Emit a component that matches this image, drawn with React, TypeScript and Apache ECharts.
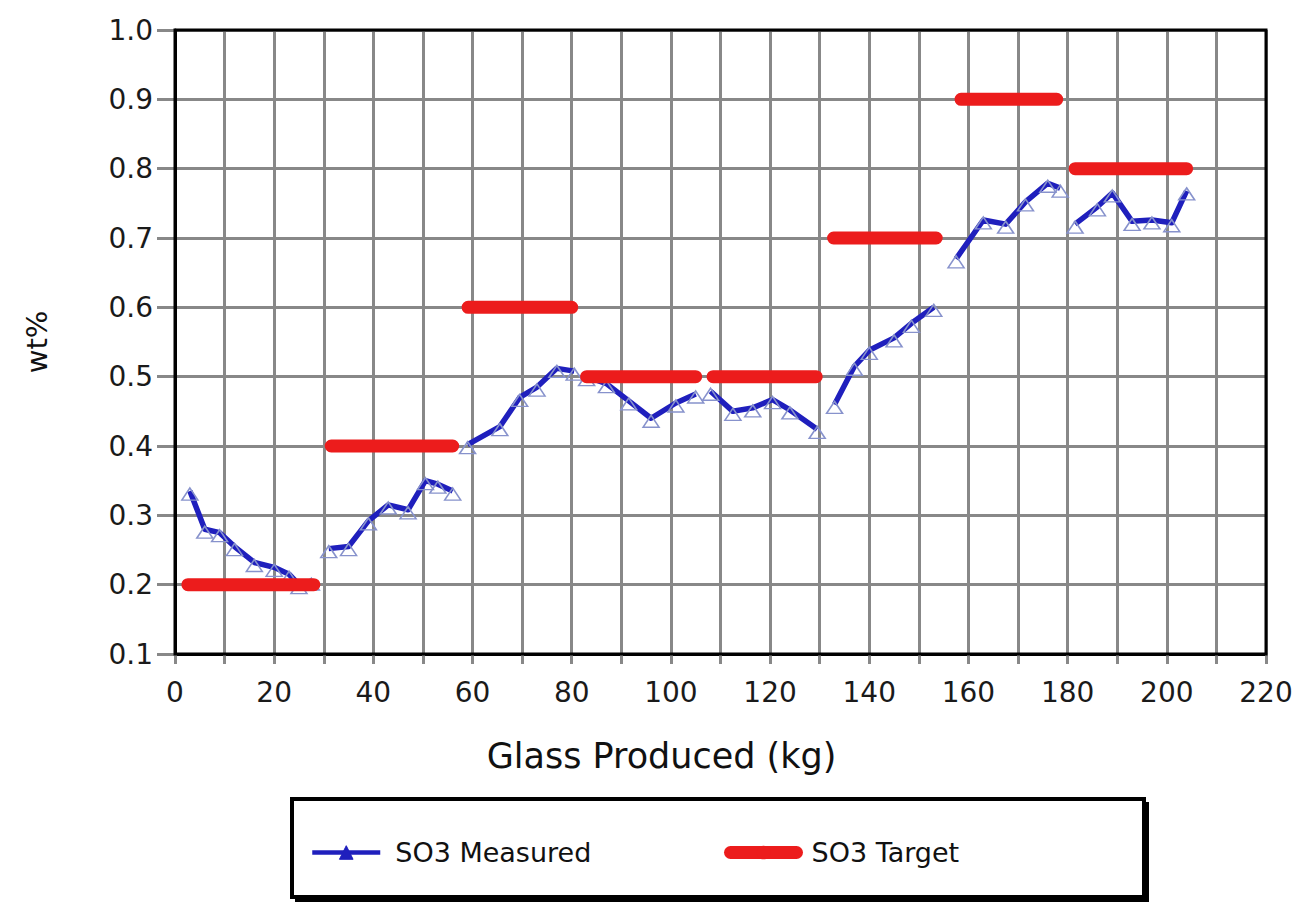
import { useEffect, useRef } from "react";
import * as echarts from "echarts";

// Measured SO3 (wt%) against glass produced (kg), one run per target level
const measuredRun1: [number, number][] = [[3, 0.335], [6, 0.28], [9, 0.275], [12, 0.255], [16, 0.232], [20, 0.225], [23, 0.215], [25, 0.2], [27.5, 0.205]];
const measuredRun2: [number, number][] = [[31, 0.252], [35, 0.255], [39, 0.292], [43, 0.315], [47, 0.308], [50.5, 0.35], [53, 0.345], [56, 0.335]];
const measuredRun3: [number, number][] = [[59, 0.402], [65.5, 0.428], [69.5, 0.47], [73, 0.485], [77, 0.512], [80.5, 0.508]];
const measuredRun4: [number, number][] = [[83, 0.5], [87, 0.49], [91.5, 0.465], [96, 0.44], [101, 0.462], [105, 0.475]];
const measuredRun5: [number, number][] = [[108, 0.479], [112.5, 0.45], [116.5, 0.455], [120.5, 0.467], [124, 0.452], [129.5, 0.424]];
const measuredRun6: [number, number][] = [[133, 0.46], [137, 0.515], [140, 0.538], [145, 0.556], [148.5, 0.577], [153, 0.6]];
const measuredRun7: [number, number][] = [[157.5, 0.67], [163, 0.726], [167.5, 0.72], [171.5, 0.752], [176, 0.779], [178.5, 0.772]];
const measuredRun8: [number, number][] = [[181.5, 0.72], [186, 0.745], [189, 0.765], [193, 0.724], [197, 0.726], [201, 0.722], [204, 0.768]];
const measuredRuns = [measuredRun1, measuredRun2, measuredRun3, measuredRun4, measuredRun5, measuredRun6, measuredRun7, measuredRun8];

// SO3 target levels and the glass-produced span each one covers
const targetLevel = [0.2, 0.4, 0.6, 0.5, 0.5, 0.7, 0.9, 0.8];
const targetStart = [2.6, 31.5, 59.1, 83, 108.5, 132.8, 158.5, 181.5];
const targetEnd = [28, 56, 80, 105, 129.3, 153.5, 177.8, 204];

// Axis ranges
const xMin = 0;
const xMax = 220;
const xStep = 10;
const xLabelStep = 20;
const yMin = 0.1;
const yMax = 1.0;
const yStep = 0.1;

const FONT = "DejaVu Sans";
const BLUE = "#1f1fbd";
const RED = "#ec1c1c";

// Plot box
const GRID = { left: 175, top: 30, right: 32, bottom: 249 };
const W = 1298;
const H = 903;

export default function App() {
  const ref = useRef<HTMLDivElement>(null);

  useEffect(() => {
    if (!ref.current) return;
    const chart = echarts.init(ref.current, undefined, { renderer: "svg" });

    // Runs separated by empty points so the line breaks between them
    const measuredData: any[] = [];
    measuredRuns.forEach((run, i) => {
      run.forEach((p) => measuredData.push(p));
      if (i < measuredRuns.length - 1) measuredData.push([run[run.length - 1][0] + 0.5, "-"]);
    });

    const targetData: any[] = [];
    targetLevel.forEach((lv, i) => {
      targetData.push([targetStart[i], lv]);
      targetData.push([targetEnd[i], lv]);
      if (i < targetLevel.length - 1) targetData.push([targetEnd[i] + 0.3, "-"]);
    });

    const plotW = W - GRID.left - GRID.right;
    const plotH = H - GRID.top - GRID.bottom;

    chart.setOption({
      animation: false,
      backgroundColor: "#ffffff",
      textStyle: { fontFamily: FONT },
      grid: { left: GRID.left, top: GRID.top, right: GRID.right, bottom: GRID.bottom, containLabel: false },
      xAxis: {
        type: "value",
        min: xMin,
        max: xMax,
        interval: xStep,
        name: "Glass Produced (kg)",
        nameLocation: "middle",
        nameGap: 84,
        nameTextStyle: { fontSize: 35, color: "#111", fontFamily: FONT, padding: [0, 118, 0, 0] },
        axisLine: { show: true, lineStyle: { color: "#000", width: 3 } },
        axisTick: { show: true, inside: false, length: 10, lineStyle: { color: "#888", width: 3 } },
        splitLine: { show: true, lineStyle: { color: "#888", width: 3 } },
        axisLabel: {
          fontSize: 28,
          color: "#1a1a1a",
          margin: 24,
          fontFamily: FONT,
          formatter: (v: number) => (v % xLabelStep === 0 ? String(v) : ""),
        },
      },
      yAxis: {
        type: "value",
        min: yMin,
        max: yMax,
        interval: yStep,
        name: "wt%",
        nameLocation: "middle",
        nameRotate: 90,
        nameGap: 124,
        nameTextStyle: { fontSize: 29, color: "#111", fontFamily: FONT },
        axisLine: { show: true, lineStyle: { color: "#000", width: 3 } },
        axisTick: { show: true, inside: false, length: 18, lineStyle: { color: "#888", width: 3 } },
        splitLine: { show: true, lineStyle: { color: "#888", width: 3 } },
        axisLabel: {
          fontSize: 28,
          color: "#1a1a1a",
          margin: 22,
          fontFamily: FONT,
          formatter: (v: number) => v.toFixed(1),
        },
      },
      legend: [
        {
          data: ["SO3 Measured"],
          left: 305,
          top: 834,
          itemWidth: 68,
          itemHeight: 17,
          selectedMode: false,
          textStyle: { fontSize: 27, color: "#111", fontFamily: FONT, padding: [0, 0, 0, 10] },
          lineStyle: { width: 4.5, color: BLUE },
          itemStyle: { color: BLUE, borderColor: BLUE, borderWidth: 1 },
        },
        {
          data: ["SO3 Target"],
          left: 719,
          top: 834,
          itemWidth: 66,
          itemHeight: 17,
          selectedMode: false,
          textStyle: { fontSize: 27, color: "#111", fontFamily: FONT, padding: [0, 0, 0, 10] },
          lineStyle: { width: 13, color: RED, cap: "round" },
        },
      ],
      graphic: [
        {
          type: "rect",
          z: 100,
          silent: true,
          shape: { x: GRID.left, y: GRID.top, width: plotW, height: plotH },
          style: { fill: "none", stroke: "#000", lineWidth: 3 },
        },
        {
          type: "rect",
          silent: true,
          shape: { x: 292, y: 799, width: 852, height: 98 },
          style: { fill: "#fff", stroke: "#000", lineWidth: 4 },
        },
        {
          type: "polyline",
          silent: true,
          shape: { points: [[1147, 802], [1147, 900], [295, 900]] },
          style: { fill: "none", stroke: "#000", lineWidth: 4 },
        },
      ],
      series: [
        {
          name: "SO3 Measured",
          type: "line",
          data: measuredData,
          connectNulls: false,
          z: 3,
          symbol: "triangle",
          symbolSize: [16, 12],
          symbolOffset: [0, 3],
          showSymbol: true,
          showAllSymbol: true,
          lineStyle: { color: BLUE, width: 5.5, join: "round" },
          itemStyle: { color: "rgba(255,255,255,0)", borderColor: "#8792cc", borderWidth: 1.5 },
          emphasis: { disabled: true },
        },
        {
          name: "SO3 Target",
          type: "line",
          data: targetData,
          connectNulls: false,
          z: 4,
          symbol: "none",
          showSymbol: false,
          lineStyle: { color: RED, width: 13, cap: "round" },
          itemStyle: { color: RED },
          emphasis: { disabled: true },
        },
      ],
    });

    return () => chart.dispose();
  }, []);

  return <div ref={ref} style={{ position: "absolute", left: 0, top: 0, width: W, height: H }} />;
}
